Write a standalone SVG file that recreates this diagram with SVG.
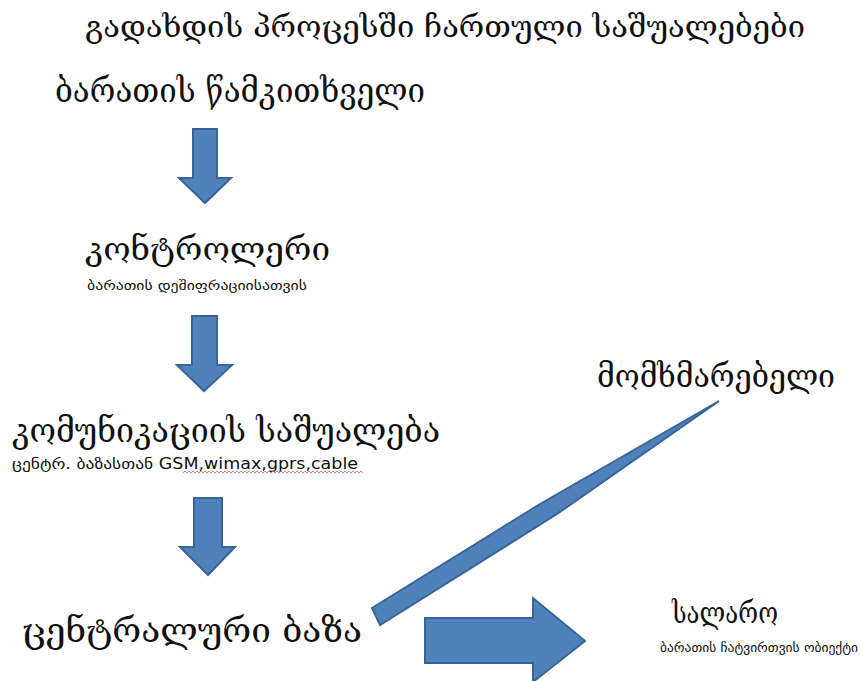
<svg xmlns="http://www.w3.org/2000/svg" width="862" height="681" viewBox="0 0 862 681">
<style>
.t{font-family:"DejaVu Serif","DejaVu Sans",serif;fill:#111;}
.s{font-family:"DejaVu Sans","Noto Sans",sans-serif;fill:#111;}
.arr{fill:#4F81BD;stroke:#3A6496;stroke-width:2;stroke-linejoin:miter;}
</style>
<rect width="862" height="681" fill="#fff"/>
<g id="title"><text class="t" x="85" y="37" font-size="30" textLength="720" lengthAdjust="spacingAndGlyphs">გადახდის პროცესში ჩართული საშუალებები</text></g>
<g id="reader"><text class="t" x="55" y="102" font-size="34" textLength="370" lengthAdjust="spacingAndGlyphs">ბარათის წამკითხველი</text></g>
<g id="controller">
<text class="t" x="85" y="260" font-size="31" textLength="245" lengthAdjust="spacingAndGlyphs">კონტროლერი</text>
<text class="s" x="87" y="290" font-size="12" textLength="220" lengthAdjust="spacingAndGlyphs">ბარათის დეშიფრაციისათვის</text>
</g>
<g id="communication">
<text class="t" x="12" y="442" font-size="34" textLength="428" lengthAdjust="spacingAndGlyphs">კომუნიკაციის საშუალება</text>
<text class="s" x="12" y="469" font-size="15" textLength="346" lengthAdjust="spacingAndGlyphs">ცენტრ. ბაზასთან GSM,wimax,gprs,cable</text>
<path d="M183 473 l2 -2 l2 2 l2 -2 l2 2 l2 -2 l2 2 l2 -2 l2 2 l2 -2 l2 2 l2 -2 l2 2 l2 -2 l2 2 l2 -2 l2 2 l2 -2 l2 2 l2 -2 l2 2 l2 -2 l2 2 l2 -2 l2 2 l2 -2 l2 2 l2 -2 l2 2 l2 -2 l2 2 l2 -2 l2 2 l2 -2 l2 2 l2 -2 l2 2 l2 -2 l2 2 l2 -2 l2 2 l2 -2 l2 2 l2 -2 l2 2 l2 -2 l2 2 l2 -2 l2 2 l2 -2 l2 2 l2 -2 l2 2 l2 -2 l2 2 l2 -2 l2 2 l2 -2 l2 2 l2 -2 l2 2 l2 -2 l2 2 l2 -2 l2 2 l2 -2 l2 2 l2 -2 l2 2 l2 -2 l2 2 l2 -2 l2 2 l2 -2 l2 2 l2 -2 l2 2 l2 -2 l2 2 l2 -2 l2 2 l2 -2 l2 2 l2 -2 l2 2 l2 -2 l2 2 l2 -2 l2 2 l2 -2 l2 2" fill="none" stroke="#e06060" stroke-width="0.8"/>
</g>
<g id="user"><text class="t" x="597" y="387" font-size="32" textLength="238" lengthAdjust="spacingAndGlyphs">მომხმარებელი</text></g>
<g id="database"><text class="t" x="22" y="642" font-size="34" textLength="340" lengthAdjust="spacingAndGlyphs">ცენტრალური ბაზა</text></g>
<g id="cashier">
<text class="t" x="672" y="623" font-size="30" textLength="106" lengthAdjust="spacingAndGlyphs">სალარო</text>
<text class="s" x="660" y="652" font-size="12" textLength="198" lengthAdjust="spacingAndGlyphs">ბარათის ჩატვირთვის ობიექტი</text>
</g>
<g id="connectors">
<polygon class="arr" points="193,129 217,129 217,178 231,178 205,203 179,178 193,178"/>
<polygon class="arr" points="192,316 217,316 217,365 232,365 204,391 177,365 192,365"/>
<polygon class="arr" points="194,498 222,498 222,547 235,547 208,575 180,547 194,547"/>
<polygon class="arr" points="372,608 540,504 719,401 557,514 380,625"/>
<polygon class="arr" points="425,618 533,618 533,598 585,641 533,682 533,663 425,663"/>
</g>
</svg>
